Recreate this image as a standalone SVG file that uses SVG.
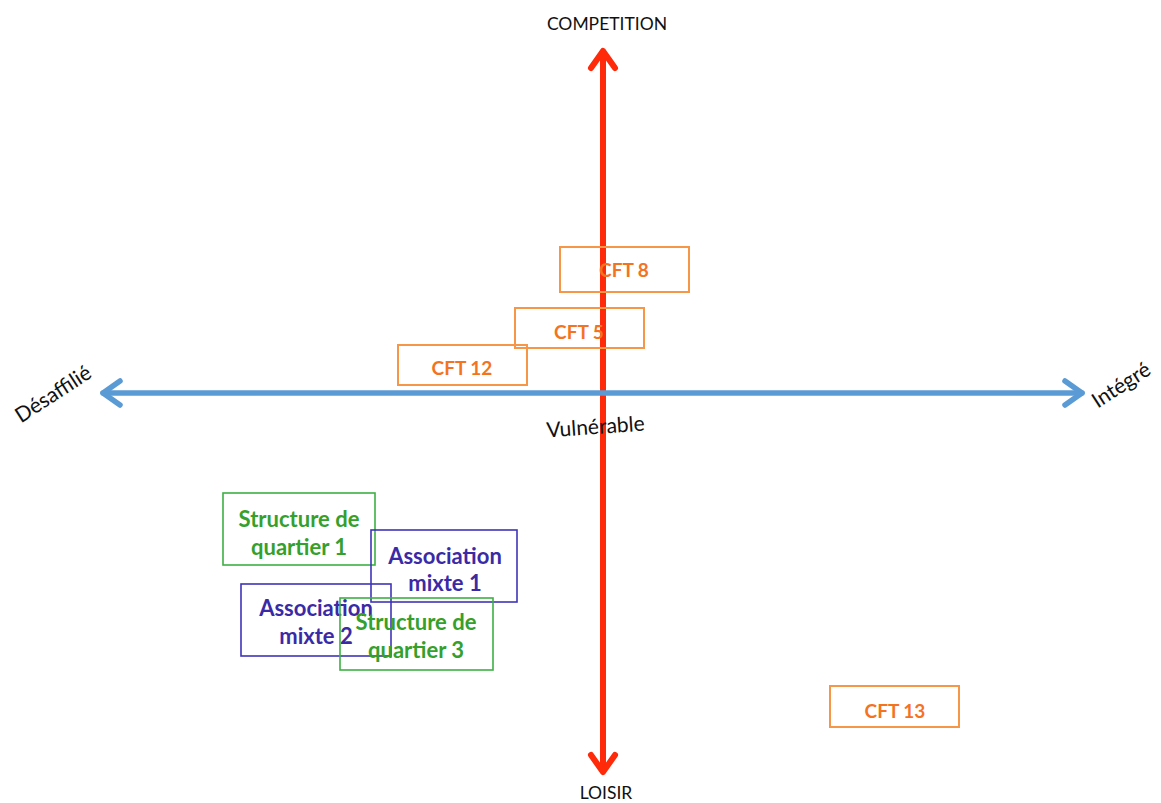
<svg xmlns="http://www.w3.org/2000/svg" width="1161" height="803" viewBox="0 0 1161 803">
<style>
text{font-family:Lato,"Liberation Sans",sans-serif;}
.lab{font-size:17.5px;fill:#111;text-anchor:middle;}
.axl{font-size:21px;fill:#111;text-anchor:middle;}
.cft rect{fill:none;stroke:#f79646;stroke-width:2;}
.cft text{font-size:19px;font-weight:bold;fill:#f4731f;text-anchor:middle;}
.sq rect{fill:none;stroke:#3cb043;stroke-width:1.6;}
.sq text{font-size:22px;font-weight:bold;fill:#35a02c;text-anchor:middle;}
.am rect{fill:none;stroke:#3f34b8;stroke-width:1.6;}
.am text{font-size:22px;font-weight:bold;fill:#3a2aa6;text-anchor:middle;}
.red{stroke:#ff2a0a;stroke-width:6;fill:none;stroke-linecap:round;stroke-linejoin:round;}
.blue{stroke:#5b9bd5;stroke-width:5.5;fill:none;stroke-linecap:round;stroke-linejoin:round;}
</style>
<g id="connectors">
<line class="red" x1="603" y1="52" x2="603" y2="770"/>
<polyline class="red" points="591,68 603,51 615,68"/>
<polyline class="red" points="591,755 603,772 615,755"/>
<line class="blue" x1="103" y1="393" x2="1082" y2="393"/>
<polyline class="blue" points="120,381 103,393 120,405"/>
<polyline class="blue" points="1065,381 1082,393 1065,405"/>
</g>
<g id="labels">
<text class="lab" x="607" y="30">COMPETITION</text>
<text class="lab" x="606" y="799">LOISIR</text>
<text class="axl" transform="translate(57,400) rotate(-33)">Désaffilié</text>
<text class="axl" transform="translate(1125,391) rotate(-33)">Intégré</text>
<text class="axl" transform="translate(596,434) rotate(-4)">Vulnérable</text>
</g>
<g id="cft8" class="cft"><rect x="560" y="247" width="129" height="45"/><text x="624" y="277">CFT 8</text></g>
<g id="cft5" class="cft"><rect x="515" y="308" width="129" height="40"/><text x="579" y="339">CFT 5</text></g>
<g id="cft12" class="cft"><rect x="398" y="345" width="129" height="40"/><text x="462" y="375">CFT 12</text></g>
<g id="cft13" class="cft"><rect x="830" y="686" width="129" height="41"/><text x="895" y="718">CFT 13</text></g>
<g id="sq1" class="sq"><rect x="223" y="493" width="152" height="72"/><text x="299" y="527">Structure de</text><text x="299" y="555">quartier 1</text></g>
<g id="am1" class="am"><rect x="371" y="530" width="146" height="72"/><text x="445" y="564">Association</text><text x="445" y="591">mixte 1</text></g>
<g id="am2" class="am"><rect x="241" y="584" width="150" height="72"/><text x="316" y="616">Association</text><text x="316" y="644">mixte 2</text></g>
<g id="sq3" class="sq"><rect x="340" y="598" width="153" height="72"/><text x="416" y="630">Structure de</text><text x="416" y="658">quartier 3</text></g>
</svg>
